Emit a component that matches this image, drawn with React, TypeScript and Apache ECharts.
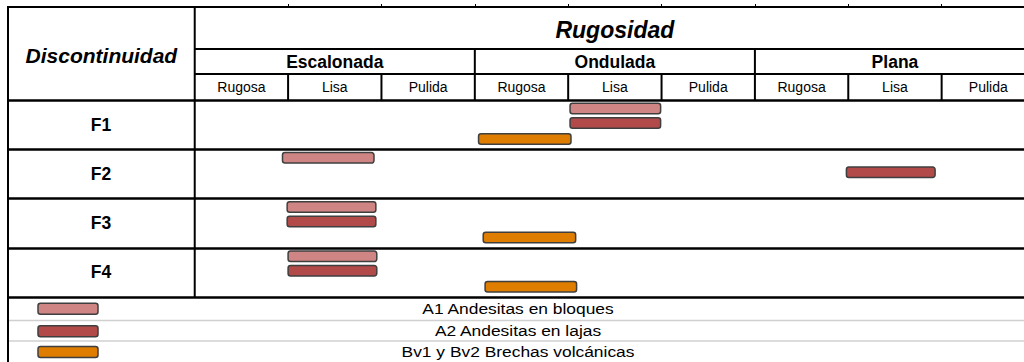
import React, { useEffect, useRef } from "react";
import * as echarts from "echarts";

// ---- data ----
const rows = ["F1", "F2", "F3", "F4"];
const groups = ["Escalonada", "Ondulada", "Plana"];
const subColumns = ["Rugosa", "Lisa", "Pulida"];
const materials = ["A1 Andesitas en bloques", "A2 Andesitas en lajas", "Bv1 y Bv2 Brechas volcánicas"];
const materialColors = ["#D08585", "#B24A4A", "#DE7D00"];
// [start, end, rowIndex] in column units (0 = first "Rugosa" column)
const a1Bloques = [
  [4.02, 4.99, 0],
  [0.94, 1.92, 1],
  [0.99, 1.94, 2],
  [1.0, 1.95, 3],
];
const a2Lajas = [
  [4.02, 4.99, 0],
  [6.98, 7.93, 1],
  [0.99, 1.94, 2],
  [1.0, 1.95, 3],
];
const bvBrechas = [
  [3.04, 4.03, 0],
  [3.09, 4.08, 2],
  [3.11, 4.09, 3],
];
const seriesData = [a1Bloques, a2Lajas, bvBrechas];

// ---- layout ----
const FONT = "'Liberation Sans', Arial, sans-serif";
const W = 1024;
const CW = 1040;
const H = 362;
const TOP = 7;
const ROW1 = 49;
const ROW2 = 74;
const GRID_TOP = 100;
const GRID_BOTTOM_PX = 297;
const LEGEND_LINES = [297, 320.5, 341, 362];
const slots = [0.175, 0.466, 0.79];
const BAR_H = 10.5;
const nCols = groups.length * subColumns.length;

export default function App() {
  const ref = useRef<HTMLDivElement>(null);
  useEffect(() => {
    if (!ref.current) return;
    const chart = echarts.init(ref.current, undefined, { renderer: "svg" });
    const option: any = {
      animation: false,
      backgroundColor: "#fff",
      grid: { left: 8, top: GRID_TOP, right: CW - 1035, bottom: H - GRID_BOTTOM_PX },
      xAxis: [
        { type: "value", min: -2, max: nCols, show: false },
        {
          type: "value",
          min: -2,
          max: nCols,
          position: "top",
          offset: GRID_TOP - TOP,
          axisLine: { show: true, lineStyle: { color: "#000", width: 2 } },
          axisTick: {
            show: true,
            length: 3,
            customValues: Array.from({ length: nCols - 1 }, (_, i) => i + 1),
            lineStyle: { color: "#000", width: 1 },
          },
          axisLabel: { show: false },
          splitLine: { show: false },
        },
      ],
      yAxis: {
        type: "category",
        inverse: true,
        data: rows,
        axisLine: { show: false },
        axisTick: { show: false },
        axisLabel: {
          inside: true,
          margin: 93,
          align: "center",
          color: "#000",
          fontFamily: FONT,
          fontWeight: "bold",
          fontSize: 17.5,
        },
        splitLine: { show: true, lineStyle: { color: "#000", width: 2.5 } },
      },
      series: seriesData.map((d, si) => ({
        type: "custom",
        name: materials[si],
        xAxisIndex: 0,
        data: d,
        encode: { x: [0, 1], y: 2 },
        renderItem: (params: any, api: any) => {
          const s = api.coord([api.value(0), api.value(2)]);
          const e = api.coord([api.value(1), api.value(2)]);
          const band = api.size([0, 1])[1];
          const cy = s[1] - band / 2 + slots[si] * band;
          return {
            type: "rect",
            shape: { x: s[0], y: cy - BAR_H / 2, width: e[0] - s[0], height: BAR_H, r: 2.5 },
            style: { fill: materialColors[si], stroke: "#3f3f3f", lineWidth: 1.5 },
          };
        },
      })),
    };
    chart.setOption(option);

    const px = (v: number) => chart.convertToPixel({ xAxisIndex: 0 }, v) as number;
    const x0 = px(-2);
    const xData = px(0);
    const xEnd = px(nCols);
    const g: any[] = [];
    const line = (x1: number, y1: number, x2: number, y2: number, color = "#000", width = 2) =>
      g.push({ type: "line", shape: { x1, y1, x2, y2 }, style: { stroke: color, lineWidth: width }, z: 10 });
    // borders
    line(x0, TOP - 1, x0, H);
    line(xData, TOP, xData, GRID_BOTTOM_PX);
    line(xData, ROW1, xEnd, ROW1);
    line(xData, ROW2, xEnd, ROW2);
    for (let gi = 1; gi < groups.length; gi++) {
      const x = px(gi * subColumns.length);
      line(x, ROW1, x, GRID_TOP + 1);
    }
    for (let c = 1; c < nCols; c++) {
      if (c % subColumns.length === 0) continue;
      const x = px(c);
      line(x, ROW2, x, GRID_TOP);
    }
    const text = (
      t: string,
      x: number,
      y: number,
      size: number,
      weight: string,
      style = "normal",
      scaleX = 1
    ) =>
      g.push({
        type: "text",
        x,
        y,
        scaleX,
        z: 11,
        style: {
          text: t,
          fill: "#000",
          font: `${style} ${weight} ${size}px ${FONT}`,
          textAlign: "center",
          textVerticalAlign: "middle",
        },
      });
    text("Rugosidad", px(nCols / 2), 30, 23, "bold", "italic");
    text("Discontinuidad", px(-1), 55, 21, "bold", "italic");
    groups.forEach((gr, gi) => text(gr, px(gi * subColumns.length + subColumns.length / 2), 62, 17.5, "bold"));
    for (let c = 0; c < nCols; c++) {
      text(subColumns[c % subColumns.length], px(c + 0.5), 87, 14, "normal");
    }
    // legend
    materials.forEach((m, i) => {
      const yTop = LEGEND_LINES[i];
      const yBot = LEGEND_LINES[i + 1];
      const cy = (yTop + yBot) / 2 + (i === 0 ? 0 : 0.5);
      if (i > 0) line(x0 + 1, yTop, W, yTop, "#d0d0d0", 1.5);
      g.push({
        type: "rect",
        shape: { x: 38, y: cy - 5.5, width: 60, height: 11, r: 2.5 },
        style: { fill: materialColors[i], stroke: "#3f3f3f", lineWidth: 1.5 },
        z: 11,
      });
      text(m, (x0 + W) / 2 + 2, cy, 14.5, "normal", "normal", 1.2);
    });
    chart.setOption({ graphic: g });
    return () => chart.dispose();
  }, []);
  return (
    <div style={{ position: "absolute", left: 0, top: 0, width: W, height: H, overflow: "hidden" }}>
      <div ref={ref} style={{ width: CW, height: H }} />
    </div>
  );
}
